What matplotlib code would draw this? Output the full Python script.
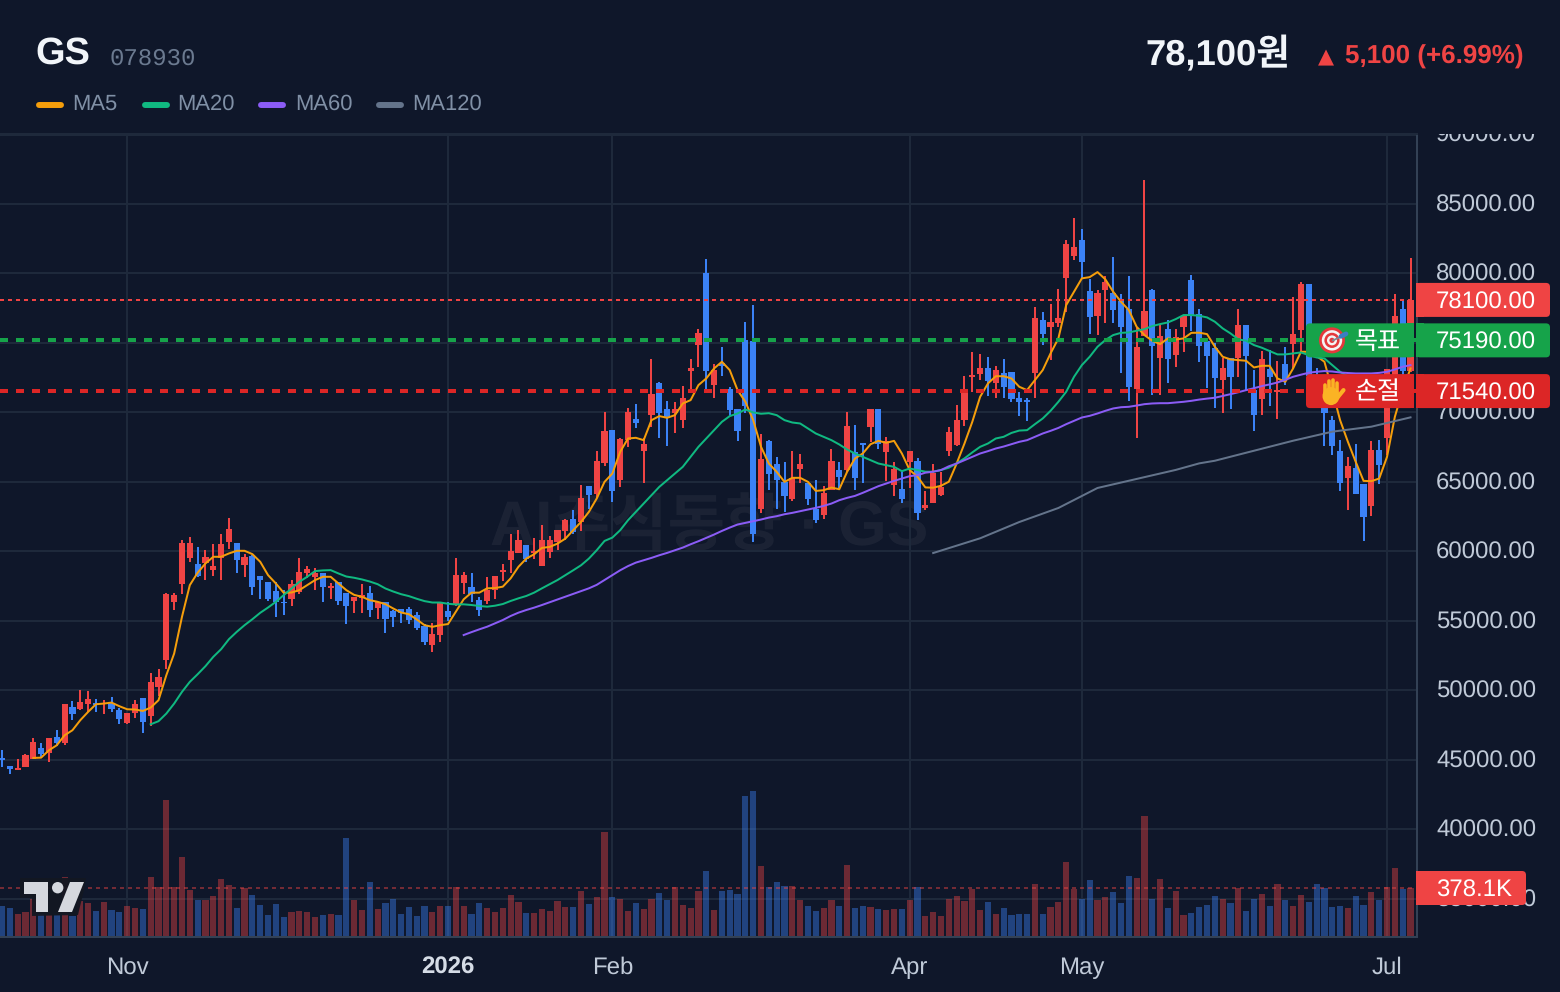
import numpy as np
import matplotlib
matplotlib.use('Agg')
import matplotlib.pyplot as plt
from matplotlib.patches import Circle, FancyBboxPatch, Polygon, Rectangle, Ellipse
from matplotlib.transforms import Bbox, ScaledTranslation

plt.rcParams['font.family'] = ['Liberation Sans', 'Noto Sans CJK KR', 'DejaVu Sans']
plt.rcParams['lines.scale_dashes'] = False
plt.rcParams['text.hinting'] = 'no_hinting'

BG = '#0f172a'
GRID = '#1e293b'
BORDER = '#334155'
UP = '#ef4444'
DOWN = '#3b82f6'
TICK = '#c0cad8'

opens = [
    45170, 44600, 44280, 44500, 45080, 45850, 45480, 46640, 46200, 48800,
    48650, 49020, 49090, 49000, 49090, 48580, 47650, 48380, 49450, 48150,
    50240, 52180, 56360, 57650, 59520, 59100, 59170, 58660, 59520, 60680,
    60600, 59020, 59670, 58230, 57800, 57150, 56400, 56570, 57080, 58440,
    58160, 58440, 57360, 57800, 57000, 56430, 56640, 57000, 55920, 56360,
    55700, 55850, 55850, 55420, 54630, 53260, 53980, 55700, 56150, 57760,
    57440, 56510, 56440, 57230, 58500, 59390, 59900, 60450, 59900, 58940,
    59970, 60690, 61460, 62370, 62130, 64700, 64120, 66380, 68730, 65130,
    68010, 69520, 67220, 69810, 72090, 70240, 69980, 69450, 73000, 74850,
    80030, 71970, 73530, 71680, 70240, 75210, 75140, 63040, 67940, 66280,
    64990, 63760, 65920, 64910, 63090, 62610, 64410, 65850, 65850, 67150,
    67770, 68970, 70240, 67150, 64770, 64480, 66430, 66500, 63120, 63480,
    64060, 67210, 67650, 69450, 72540, 72760, 73190, 72110, 72830, 72900,
    71030, 70930, 72830, 76650, 76140, 76430, 79670, 81250, 82400, 78730,
    76930, 78810, 78590, 78010, 77440, 71680, 75490, 78810, 73910, 76000,
    74130, 76150, 79530, 77080, 75140, 74630, 72330, 73910, 73910, 76290,
    71610, 70960, 73120, 71490, 73480, 74920, 75930, 79240, 72400, 71000,
    69460, 67220, 65270, 65990, 64840, 63260, 67290, 68150, 72500, 77440,
    72980,
]
closes = [
    45030, 44350, 44400, 45350, 46280, 45460, 46560, 46200, 49000, 48300,
    49160, 49380, 48990, 49090, 48650, 47930, 48380, 49020, 47720, 50600,
    50960, 56930, 56860, 60600, 60600, 58230, 59600, 58950, 60530, 61610,
    59380, 59600, 57440, 57940, 56570, 56360, 56300, 57650, 58520, 58730,
    58440, 57440, 57500, 56430, 56070, 56720, 56860, 55780, 56360, 55130,
    55280, 55560, 55060, 54480, 53480, 54050, 56360, 55280, 58310, 58310,
    56940, 55790, 57230, 58240, 58670, 60040, 60810, 59490, 60020, 60810,
    60860, 61530, 62250, 61410, 63880, 64050, 66500, 68700, 64340, 68080,
    70070, 69230, 67720, 71320, 69950, 69640, 70240, 71040, 73190, 75690,
    72980, 73050, 73310, 70170, 68660, 70460, 61290, 66640, 65560, 65130,
    63980, 65270, 66280, 63760, 62250, 64190, 66500, 65350, 69020, 65270,
    67670, 70240, 67720, 67940, 65920, 63760, 67230, 62760, 63340, 65670,
    64640, 68600, 69450, 71680, 72690, 73190, 72250, 73050, 71820, 70960,
    70740, 70790, 76790, 75640, 76500, 76790, 82120, 81900, 80820, 76860,
    78590, 79380, 77370, 76140, 71820, 74700, 77290, 74770, 75490, 73840,
    75420, 76940, 76940, 74780, 74060, 72470, 73190, 72550, 76290, 74060,
    69810, 73840, 72550, 71610, 72330, 75640, 79240, 72600, 71200, 69980,
    67590, 64910, 66140, 64120, 62470, 67290, 66210, 73100, 76940, 72980,
    78100,
]
highs = [
    45700, 44600, 45050, 45400, 46600, 46200, 46560, 47140, 49000, 49230,
    50020, 49950, 49380, 49300, 49520, 48720, 48380, 49300, 49450, 51240,
    51530, 57000, 57000, 60820, 61040, 60320, 60100, 60530, 61250, 62400,
    60600, 59810, 59740, 58230, 57800, 57800, 57220, 57940, 59520, 58950,
    58800, 58440, 57700, 57800, 57000, 56720, 57650, 57500, 56360, 56360,
    55780, 55850, 56000, 55640, 54770, 54840, 56360, 56360, 59530, 58520,
    58450, 56720, 58160, 58240, 59100, 61290, 61580, 60450, 61000, 61890,
    61100, 61580, 62370, 63020, 64820, 64700, 67220, 70000, 68730, 68200,
    70290, 70600, 68130, 73840, 72160, 70820, 70750, 71900, 73840, 75980,
    81040, 73480, 74710, 71800, 70240, 76500, 77730, 68440, 68010, 66790,
    66430, 67220, 67000, 64910, 65130, 64700, 67410, 66430, 70000, 69090,
    67770, 70240, 70240, 68230, 66430, 65850, 67230, 66720, 64350, 66290,
    65720, 68940, 70530, 72610, 74340, 74200, 73980, 73330, 73840, 72900,
    71510, 71030, 77580, 77220, 77800, 78880, 82400, 83990, 83200, 79600,
    78810, 79810, 81180, 78520, 79810, 76140, 86730, 78880, 76290, 76650,
    76000, 77010, 79890, 77420, 75210, 74970, 73910, 73910, 77440, 76290,
    73050, 74420, 74490, 73700, 74710, 78310, 79390, 79240, 73200, 71600,
    69750, 68010, 66790, 67720, 64840, 67940, 68010, 73100, 78520, 78020,
    81110,
]
lows = [
    44500, 43970, 44280, 44500, 45080, 45220, 44860, 46040, 46060, 47860,
    48580, 48440, 48440, 48300, 48440, 47570, 47570, 48000, 46920, 47430,
    49590, 51530, 55780, 56930, 59240, 58130, 57940, 58230, 57940, 60170,
    58440, 58160, 56860, 56570, 56430, 55280, 55420, 56070, 56930, 58080,
    57220, 56360, 56570, 56140, 54780, 55560, 55560, 55280, 55130, 54120,
    54560, 54840, 54780, 54340, 53260, 52760, 53480, 55000, 56070, 56940,
    56360, 55360, 56220, 56580, 57880, 58450, 59900, 59250, 59490, 58940,
    59560, 60090, 60810, 61290, 61480, 63090, 63880, 66140, 63570, 64630,
    67530, 68870, 64910, 68970, 68150, 67580, 68510, 68870, 71610, 73270,
    71660, 71030, 72620, 69740, 67940, 69950, 60670, 62750, 64410, 63040,
    62830, 63620, 64910, 63330, 62030, 62320, 64410, 64580, 65750, 64410,
    64910, 67870, 67360, 65060, 63980, 63470, 64560, 62260, 62980, 63480,
    63990, 66870, 67570, 69020, 71460, 72330, 71170, 71030, 71030, 70740,
    69730, 69370, 71030, 74850, 73760, 76140, 77220, 80970, 79670, 75640,
    75570, 76430, 76430, 72830, 70810, 68150, 75490, 71250, 71250, 72110,
    73260, 74350, 75860, 73630, 71730, 70310, 69950, 70240, 72550, 71610,
    68660, 69810, 70460, 69520, 71970, 73120, 74370, 71800, 70700, 67590,
    66940, 64340, 62970, 64120, 60740, 62540, 64840, 66930, 71800, 72400,
    72900,
]
# traded volume in thousands of shares
volumes = [
    241, 225, 169, 193, 297, 174, 161, 161, 474, 153,
    281, 265, 201, 273, 209, 193, 241, 225, 217, 474,
    394, 1093, 386, 635, 362, 289, 289, 314, 458, 410,
    225, 378, 322, 249, 161, 257, 145, 185, 201, 185,
    145, 161, 169, 161, 780, 289, 209, 434, 217, 265,
    297, 169, 233, 153, 241, 193, 241, 241, 386, 241,
    169, 265, 225, 185, 225, 322, 273, 177, 177, 217,
    201, 281, 233, 233, 354, 257, 306, 836, 306, 297,
    201, 265, 217, 297, 338, 289, 386, 249, 225, 354,
    515, 209, 354, 362, 330, 1118, 1158, 555, 386, 434,
    402, 402, 289, 241, 201, 225, 289, 241, 563, 225,
    241, 233, 217, 209, 217, 217, 289, 394, 153, 193,
    153, 297, 314, 281, 370, 209, 273, 169, 225, 161,
    169, 169, 418, 169, 233, 273, 587, 370, 297, 450,
    289, 306, 346, 265, 482, 466, 957, 297, 458, 225,
    354, 161, 177, 233, 249, 314, 297, 265, 378, 201,
    297, 330, 241, 418, 289, 241, 322, 273, 418, 378,
    233, 241, 225, 314, 249, 346, 289, 386, 539, 370,
    378.1,
]

ma5 = [
    45150, 45170, 45700, 46060, 46780, 47140,
    47860, 48460, 49010, 49060, 49130, 48870, 48650, 48630, 48530, 48770,
    49300, 51100, 52660, 55300, 57580, 58470, 59140, 59620, 59620, 59860,
    60050, 60050, 59810, 59260, 58300, 57700, 57030, 57050, 57220, 57580,
    57940, 58180, 58180, 57700, 57220, 56880, 56740, 56500, 56380, 56210,
    55900, 55610, 55490, 55110, 54700, 54580, 54700, 54780, 55670, 56560,
    57040, 57040, 57350, 57370, 57470, 58070, 58900, 59490, 59800, 60260,
    60330, 60570, 60930, 61530, 62130, 62850, 63810, 65010, 65610, 67170,
    68130, 68180, 68010, 69450, 69740, 69620, 69810, 70650, 70890, 71970,
    72450, 73170, 73650, 73050, 71610, 70770, 69450, 67530, 66330, 65730,
    65010, 65300, 65300, 65010, 64360, 64410, 64600, 64480, 65730, 66690,
    67050, 67720, 67960, 67820, 67960, 67050, 65860, 65380, 64610, 64590,
    64730, 65020, 66330, 67770, 69330, 71130, 72090, 72610, 72610, 72450,
    71850, 71610, 72330, 73050, 74250, 75330, 77730, 78690, 79650, 79740,
    80100, 79580, 78690, 77970, 77370, 76170, 75570, 75160, 74920, 75330,
    75250, 75330, 75730, 75740, 75640, 74730, 74010, 73820, 73770, 73720,
    73240, 73360, 73360, 72450, 72210, 73170, 74370, 74370, 74060, 73650,
    71610, 69450, 67890, 66450, 65080, 65060, 65250, 66810, 69690, 71610,
    73170,
]
ma20 = [
    47570,
    47790, 48340, 49060, 49900, 50620, 51170, 51750, 52420, 52970, 53690,
    54220, 54700, 55130, 55590, 55970, 56380, 56860, 57340, 57820, 58180,
    58590, 58640, 58660, 58420, 58200, 58110, 57990, 57840, 57650, 57340,
    57120, 56930, 56790, 56600, 56430, 56330, 56330, 56240, 56190, 56200,
    56150, 56080, 56030, 56100, 56220, 56440, 56630, 56800, 57040, 57350,
    57650, 57950, 58300, 58650, 59010, 59490, 60090, 60760, 61000, 61530,
    62250, 62850, 63450, 64050, 64650, 65130, 65610, 66090, 66810, 67530,
    68130, 68730, 69330, 69740, 69930, 70220, 70000, 69910, 69950, 69810,
    69450, 69280, 69210, 68850, 68490, 68250, 68010, 67700, 67340, 67050,
    66810, 66570, 66330, 66210, 66090, 65780, 65970, 65860, 65740, 65740,
    65860, 66030, 66340, 66700, 67130, 67530, 67770, 68130, 68250, 68530,
    68700, 68730, 69160, 69570, 70120, 70770, 71490, 72570, 73410, 74010,
    74730, 75210, 75570, 75730, 75760, 75880, 76000, 76220, 76360, 76480,
    76720, 77010, 77010, 76960, 76840, 76530, 76050, 75690, 75260, 75160,
    74850, 74660, 74420, 74180, 74180, 74250, 74320, 74130, 73960, 73890,
    73410, 72930, 72600, 72350, 72100, 71900, 71700, 71650, 71700, 71900,
    72100,
]
ma60 = [
    53990,
    54200, 54400, 54590, 54830, 55070, 55360, 55600, 55790, 55960, 56150,
    56350, 56550, 56750, 56950, 57150, 57350, 57600, 57950, 58300, 58650,
    58950, 59200, 59370, 59540, 59730, 59900, 60090, 60280, 60520, 60740,
    60980, 61220, 61480, 61720, 61940, 62060, 62180, 62300, 62440, 62540,
    62680, 62780, 62900, 63020, 63140, 63280, 63450, 63690, 63860, 64000,
    64220, 64460, 64700, 64890, 65080, 65250, 65420, 65490, 65670, 65740,
    65860, 66130, 66330, 66570, 66810, 67050, 67220, 67410, 67550, 67720,
    67890, 68010, 68250, 68490, 68680, 68890, 69160, 69400, 69640, 69760,
    69930, 70120, 70290, 70380, 70410, 70500, 70600, 70650, 70670, 70670,
    70720, 70770, 70840, 70930, 71000, 71060, 71190, 71320, 71460, 71610,
    71750, 71900, 72020, 72160, 72350, 72570, 72720, 72860, 72930, 72980,
    72950, 72880, 72840, 72810, 72810, 72810, 72850, 72930, 73100, 73290,
    73410,
]
ma120_idx = [119, 125, 130, 135, 140, 145, 150, 153, 155, 160, 165, 170, 175, 180]
ma120 = [59890, 60950, 62120, 63130, 64570, 65220, 65870, 66340, 66530, 67250, 67970, 68620, 68980, 69650]

date_ticks = [16, 57, 78, 116, 138, 177]
date_labels = ['Nov', '2026', 'Feb', 'Apr', 'May', 'Jul']
price_ticks = list(range(35000, 95000, 5000))

current_price = 78100
target_price = 75190
stop_price = 71540
last_volume = 378.1

W, H = 1560, 992
fig = plt.figure(figsize=(W / 100, H / 100), dpi=100, facecolor=BG)
rect = [0, (H - 937) / H, 1417 / W, (937 - 134) / H]

ax = fig.add_axes(rect, zorder=1)
ax.patch.set_visible(False)
vax = fig.add_axes(rect, zorder=2, sharex=ax)
vax.patch.set_visible(False)
ov = fig.add_axes([0, 0, 1, 1], zorder=10)
ov.set_xlim(0, W)
ov.set_ylim(H, 0)
ov.axis('off')

x = np.arange(len(closes))
o, c, hi, lo = map(np.array, (opens, closes, highs, lows))
up = c >= o
colors = np.where(up, UP, DOWN)

ax.set_xlim(-0.256, 180.83)
ax.set_ylim(32266, 90036)
vax.set_ylim(-12, 6444)

# candles
ax.vlines(x, lo, hi, colors=colors, linewidth=1.44, zorder=3)
ax.bar(x, np.abs(c - o), bottom=np.minimum(o, c), width=0.79, color=colors, zorder=3)

# volume underneath the candles
vax.bar(x, volumes, width=0.79, color=colors, alpha=0.42, linewidth=0)
vax.axhline(last_volume, color=UP, alpha=0.45, linewidth=1.44, linestyle=(0, (2.88, 2.88)))

# moving averages
ax.plot(np.arange(4, 4 + len(ma5)), ma5, color='#f59e0b', lw=1.44, zorder=4)
ax.plot(np.arange(19, 19 + len(ma20)), ma20, color='#10b981', lw=1.44, zorder=4)
ax.plot(np.arange(59, 59 + len(ma60)), ma60, color='#8b5cf6', lw=1.44, zorder=4)
ax.plot(ma120_idx, ma120, color='#64748b', lw=1.44, zorder=4)

# price lines
ax.axhline(current_price, color=UP, lw=1.44, linestyle=(0, (2.88, 2.88)), zorder=5)
ax.axhline(target_price, color='#16a34a', lw=2.88, linestyle=(0, (5.76, 5.76)), zorder=5)
ax.axhline(stop_price, color='#dc2626', lw=2.88, linestyle=(0, (5.76, 5.76)), zorder=5)

# axes styling
ax.set_xticks(date_ticks)
ax.set_xticklabels(date_labels)
ax.set_yticks(price_ticks)
ax.set_yticklabels([f'{p:.2f}' for p in price_ticks])
ax.yaxis.tick_right()
ax.grid(True, color=GRID, linewidth=1.44, zorder=0)
ax.set_axisbelow(True)
ax.tick_params(axis='both', length=0, colors=TICK, labelsize=17.3)
ax.tick_params(axis='x', pad=14)
ax.tick_params(axis='y', pad=13.7)
ax.get_xticklabels()[1].set_fontweight('bold')
ax.get_xticklabels()[1].set_color('#d5dce6')

# the pane clips its price scale at the top edge
scale_box = Bbox([[1417, 0], [W, H - 134]])
nudge_up = ScaledTranslation(0, 1 / 100, fig.dpi_scale_trans)
for lab in ax.get_yticklabels():
    lab.set_transform(lab.get_transform() + nudge_up)
    lab.set_clip_box(scale_box)
    lab.set_clip_on(True)

for spine in ('right', 'bottom'):
    ax.spines[spine].set_color(BORDER)
    ax.spines[spine].set_linewidth(1.44)
ax.spines['left'].set_visible(False)
ax.spines['top'].set_color(GRID)
ax.spines['top'].set_linewidth(1.44)
vax.axis('off')

# faint watermark behind the candles
fig.text(709 / W, 1 - 529 / H, 'AI주식동향 · GS', color='white', alpha=0.05,
         fontsize=45, fontweight='bold', ha='center', va='center', zorder=0.5)


def price_y(price):
    return H - ax.transData.transform((0, price))[1]


def tag(x0, x1, yc, color, text, text_x, round_left=False, size=17.3):
    # coloured price tag, square on the side facing its neighbour
    y0, y1 = yc - 17, yc + 17
    ov.add_patch(FancyBboxPatch((x0, y0), x1 - x0, y1 - y0, boxstyle='round,pad=0,rounding_size=4',
                                fc=color, ec='none', zorder=5))
    if round_left:
        ov.add_patch(Rectangle((x1 - 8, y0), 8, y1 - y0, fc=color, ec='none', zorder=5))
    else:
        ov.add_patch(Rectangle((x0, y0), 8, y1 - y0, fc=color, ec='none', zorder=5))
    ov.text(text_x, yc + 8.5, text, color='white', fontsize=size, ha='center', va='baseline', zorder=6)


y_cur, y_tar, y_stop = price_y(current_price), price_y(target_price), price_y(stop_price)
tag(1416, 1550, y_cur, UP, f'{current_price:.2f}', 1486)
tag(1416, 1550, y_tar, '#16a34a', f'{target_price:.2f}', 1486)
tag(1416, 1550, y_stop, '#dc2626', f'{stop_price:.2f}', 1486)
tag(1306, 1414, y_tar, '#16a34a', '목표', 1378, round_left=True, size=18)
tag(1306, 1414, y_stop, '#dc2626', '손절', 1378, round_left=True, size=18)
tag(1416, 1526, 888, UP, f'{last_volume}K', 1474)

# target icon
for r, col in zip((13, 10.2, 7.6, 5, 2.6), ('#e5383b', '#f4f4f4', '#e5383b', '#f4f4f4', '#e5383b')):
    ov.add_patch(Circle((1332, y_tar), r, fc=col, ec='none', zorder=7))
ov.plot([1333, 1344], [y_tar, y_tar - 5], color='#7b8794', lw=1.3, zorder=8)
ov.plot([1341, 1346], [y_tar - 4, y_tar - 6.5], color='#3a7fc1', lw=3.4, solid_capstyle='round', zorder=8)

# raised hand icon
HAND = '#fbb324'
ov.add_patch(Ellipse((1331, y_stop + 5), 17, 18, fc=HAND, ec='none', zorder=7))
for fx, ftop in zip((1324.5, 1328.6, 1332.8, 1337), (-6, -10, -11, -8)):
    ov.plot([fx, fx], [y_stop + 4, y_stop + ftop], color=HAND, lw=2.6, solid_capstyle='round', zorder=7)
ov.plot([1337, 1343.5], [y_stop + 7, y_stop - 1], color=HAND, lw=3, solid_capstyle='round', zorder=7)

# chart library logo in the lower left corner
ov.add_patch(Polygon([(20, 878), (86, 878), (84, 890), (78, 915), (32, 916), (32, 898), (20, 898)],
                     fc='#131722', ec='none', alpha=0.95, zorder=3))
ov.add_patch(Polygon([(24, 882), (48, 882), (48, 912), (36, 912), (36, 894), (24, 894)],
                     fc='#d5d8de', ec='none', zorder=4))
ov.add_patch(Circle((57.7, 887.7), 5.7, fc='#d5d8de', ec='none', zorder=4))
ov.add_patch(Polygon([(70, 882), (84, 882), (72, 912), (58, 912)], fc='#d5d8de', ec='none', zorder=4))

# header
ov.text(35.5, 64, 'GS', color='#f1f5f9', fontsize=27.4, fontweight='bold', va='baseline')
ov.text(109.5, 64.5, '078930', color='#6b7a90', fontsize=17.3, family=['Liberation Mono'], va='baseline')
ov.text(1290, 65, '78,100원', color='#f1f5f9', fontsize=26.2, fontweight='bold', ha='right', va='baseline')
ov.text(1325.5, 63.5, '▲', color=UP, fontsize=15, ha='center', va='baseline', family=['DejaVu Sans'])
ov.text(1524, 64, '5,100 (+6.99%)', color=UP, fontsize=18.7, fontweight='bold', ha='right', va='baseline')

# moving average legend
for x0, col, name, text_x in ((36, '#f59e0b', 'MA5', 72), (142, '#10b981', 'MA20', 177),
                              (258, '#8b5cf6', 'MA60', 295), (376, '#64748b', 'MA120', 412)):
    ov.plot([x0 + 3, x0 + 25], [105, 105], color=col, lw=4.3, solid_capstyle='round')
    ov.text(text_x, 110, name, color='#8090a6', fontsize=15.8, va='baseline')

fig.savefig('out.png', dpi=100, facecolor=BG)
